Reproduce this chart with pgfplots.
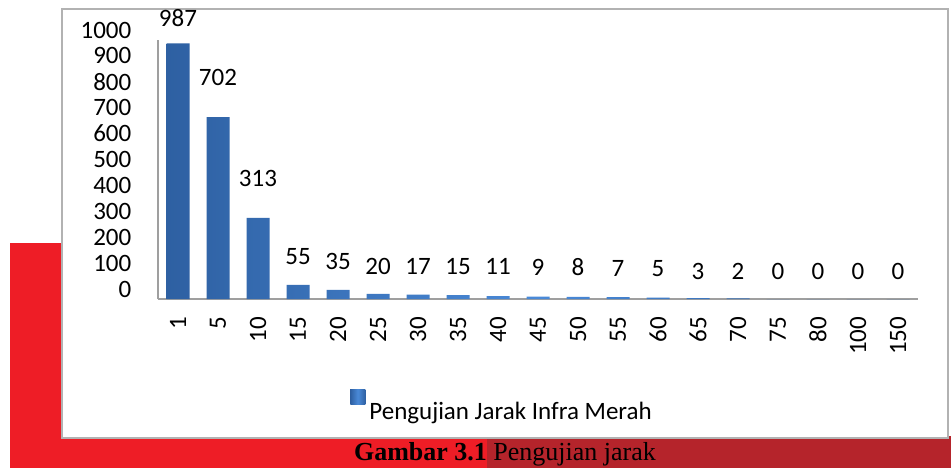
\documentclass[border=0pt]{standalone}
\usepackage{pgfplots}
\pgfplotsset{compat=1.18}
\usepackage{fontspec}
\setmainfont{Carlito}
\newfontfamily\capfont{Liberation Serif}
\definecolor{brightred}{HTML}{EE1D26}
\definecolor{darkred}{HTML}{B5242B}
\definecolor{bardark}{HTML}{2E60A2}
\definecolor{barmid}{HTML}{4A8AD8}
\begin{document}
\fontsize{12.5}{15}\selectfont
\begin{tikzpicture}
\useasboundingbox (0,0) rectangle (475.5pt,234pt);
\clip (0,0) rectangle (475.5pt,234pt);
\fill[brightred] (5pt,0) rectangle (243.5pt,112.5pt);
\fill[darkred] (243.5pt,0) rectangle (475.5pt,16pt);
\node[anchor=base, font=\capfont\fontsize{13}{15}\selectfont, inner sep=0pt] at (252.5pt,4pt) {\textbf{Gambar 3.1} Pengujian jarak};
\filldraw[fill=white, draw=gray!60, line width=1pt] (31pt,15pt) rectangle (474pt,229.5pt);
\begin{axis}[
  at={(79pt,84.5pt)}, anchor=south west,
  scale only axis, width=380pt, height=129.5pt,
  xmin=-0.5, xmax=18.5, ymin=0, ymax=1000,
  axis x line*=bottom, axis y line*=left,
  axis line style={draw=gray!75, line width=0.8pt, -},
  xtick={0,...,18},
  xticklabels={1,5,10,15,20,25,30,35,40,45,50,55,60,65,70,75,80,100,150},
  ytick={0,100,...,1000},
  major tick length=0pt,
  xticklabel style={rotate=90, anchor=east},
  xticklabel shift=4.5pt,
  yticklabel shift=9pt,
  yticklabel style={yshift=5pt},
  /pgf/number format/assume math mode=true,
  /pgf/number format/1000 sep={},
  clip=false,
  legend style={at={(axis description cs:0.2526,-0.421)}, anchor=west, draw=none, fill=none, inner sep=0pt,
    /tikz/every even column/.append style={column sep=0pt}},
  legend cell align=left,
  legend image code/.code={\fill[bardark] (0pt,4pt) rectangle (7.5pt,11.5pt);},
]
\addplot[ybar, bar width=11.5pt, draw=none, left color=bardark, right color=bardark, middle color=barmid]
  coordinates {(0,987) (1,702) (2,313) (3,55) (4,35) (5,20) (6,17) (7,15) (8,11) (9,9) (10,8) (11,7) (12,5) (13,3) (14,2) (15,0) (16,0) (17,0) (18,0)};
\addlegendentry{Pengujian Jarak Infra Merah}
\addplot[draw=none, mark=none, forget plot, nodes near coords, point meta=explicit symbolic, nodes near coords align=center]
  table[meta=lab] {
x y lab
0 1083 987
1 857 702
2 467 313
3 162 55
4 143 35
5 127 20
6 127 17
7 127 15
8 124 11
9 124 9
10 124 8
11 118 7
12 118 5
13 108 3
14 108 2
15 108 0
16 108 0
17 108 0
18 108 0
};
\end{axis}
\end{tikzpicture}
\end{document}
